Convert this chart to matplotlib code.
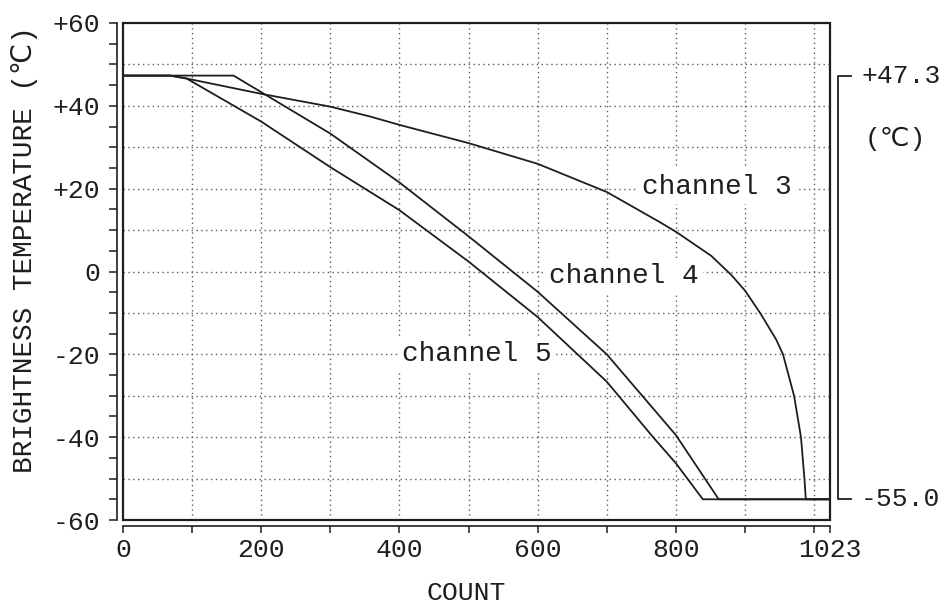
import matplotlib
matplotlib.use("Agg")
import matplotlib.pyplot as plt
from matplotlib.patches import Rectangle
from matplotlib.ticker import FixedLocator, MultipleLocator

# --- data ---
count_ch3 = [0, 68, 92, 200, 300, 358, 400, 500, 600, 700, 778, 800, 851, 880, 900, 923, 945, 955, 971, 981, 986, 988, 1023]
temp_ch3 = [47.3, 47.3, 46.6, 42.9, 39.8, 37.4, 35.4, 31.0, 26.0, 19.2, 11.8, 9.6, 3.8, -0.8, -4.6, -10.3, -16.4, -20.0, -30.0, -40.0, -50.0, -55.0, -55.0]

count_ch4 = [0, 160, 200, 300, 400, 500, 600, 700, 800, 862, 1023]
temp_ch4 = [47.3, 47.3, 43.3, 33.3, 21.5, 8.5, -4.9, -20.0, -39.5, -55.0, -55.0]

count_ch5 = [0, 68, 92, 200, 300, 400, 500, 600, 700, 767, 800, 839, 1023]
temp_ch5 = [47.3, 47.3, 46.6, 36.2, 25.2, 14.8, 2.4, -11.0, -26.6, -40.0, -46.3, -55.0, -55.0]

x_labeled = [0, 200, 400, 600, 800, 1023]
x_minor = [100, 300, 500, 700, 900, 1000]
y_major = [-60, -40, -20, 0, 20, 40, 60]

t_max = max(temp_ch3)
t_min = min(temp_ch3)

FONT = ['Liberation Mono', 'DejaVu Sans Mono', 'DejaVu Sans']
plt.rcParams['font.family'] = FONT
INK = '#1e1e1e'

fig = plt.figure(figsize=(9.46, 6.10), dpi=100)
ax = fig.add_axes([123 / 946, 1 - 520 / 610, 707 / 946, 497 / 610])
ax.set_xlim(0, 1023)
ax.set_ylim(-60, 60)

# dotted grid
for gx in range(100, 1001, 100):
    ax.axvline(gx, color='#5e5e5e', lw=1.0, ls=(0, (1, 2.5)), zorder=1)
for gy in range(-50, 51, 10):
    ax.axhline(gy, color='#5e5e5e', lw=1.0, ls=(0, (1, 2.5)), zorder=1)

# curves
for cx, ty in [(count_ch3, temp_ch3), (count_ch4, temp_ch4), (count_ch5, temp_ch5)]:
    ax.plot(cx, ty, color=INK, lw=1.3, zorder=3, solid_joinstyle='round')

# frame of the plot box
ax.add_patch(Rectangle((0, 0), 1, 1, transform=ax.transAxes, fill=False,
                       ec=INK, lw=1.6, zorder=4, clip_on=False))

# detached axis lines with outward ticks
for side in ['top', 'right']:
    ax.spines[side].set_visible(False)
for side in ['left', 'bottom']:
    ax.spines[side].set_position(('outward', 4.3))
    ax.spines[side].set_color(INK)
    ax.spines[side].set_linewidth(1.2)

ax.yaxis.set_major_locator(FixedLocator(y_major))
ax.yaxis.set_minor_locator(MultipleLocator(5))
ax.set_yticklabels([f"{v:+d}" if v != 0 else "0" for v in y_major])
ax.xaxis.set_major_locator(FixedLocator(x_labeled))
ax.xaxis.set_minor_locator(FixedLocator(x_minor))
ax.set_xticklabels([str(v) for v in x_labeled])

ax.tick_params(axis='both', which='both', direction='out', color=INK, width=1.1)
ax.tick_params(axis='y', which='both', length=6, pad=6, labelsize=19, labelcolor=INK)
ax.tick_params(axis='x', which='both', length=5, pad=4, labelsize=19, labelcolor=INK)

# axis titles
fig.text(25 / 946, 1 - 250 / 610, "BRIGHTNESS TEMPERATURE (℃)", fontsize=20, color=INK,
         rotation=90, ha='center', va='center')
fig.text(466 / 946, 1 - 593 / 610, "COUNT", fontsize=19, color=INK, ha='center', va='center')

# channel labels
box = dict(fc='white', ec='none', pad=3)
ax.text(751, 20.5, "channel 3", fontsize=20, color=INK, va='center', ha='left', bbox=box, zorder=2)
ax.text(617, -1, "channel 4", fontsize=20, color=INK, va='center', ha='left', bbox=box, zorder=2)
ax.text(404, -19.8, "channel 5", fontsize=20, color=INK, va='center', ha='left', bbox=box, zorder=2)

# bracket on the right showing the range
ax.plot([1053, 1035, 1035, 1053], [t_max, t_max, t_min, t_min], color=INK, lw=1.3, clip_on=False)
ax.text(1068, t_max, f"{t_max:+.1f}", fontsize=19, color=INK, va='center', ha='left', clip_on=False)
ax.text(1118, 32, "(℃)", fontsize=19, color=INK, va='center', ha='center', clip_on=False)
ax.text(1068, t_min, f"{t_min:.1f}", fontsize=19, color=INK, va='center', ha='left', clip_on=False)

fig.savefig("out.png", dpi=100)
